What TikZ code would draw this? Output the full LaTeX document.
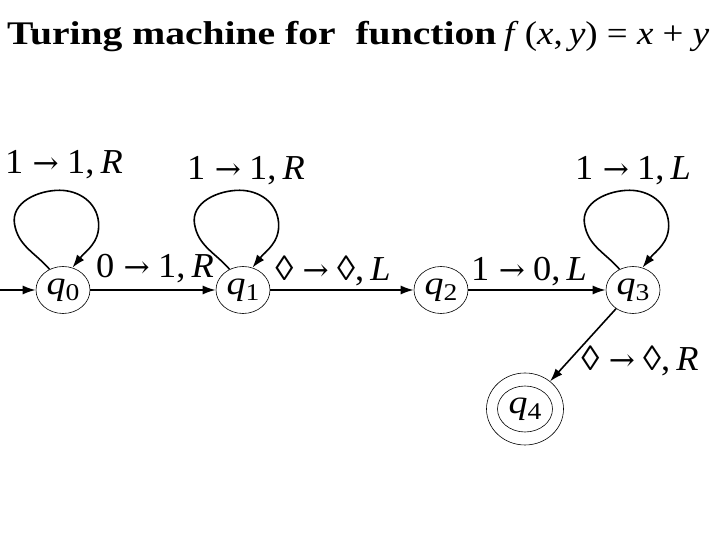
\documentclass[tikz,border=0pt]{standalone}
\usepackage{fontspec}
\setmainfont{Liberation Serif}
\newfontfamily\arrfont{DejaVu Serif}
\usetikzlibrary{shapes.geometric,arrows.meta}
\newcommand{\qst}[1]{\scalebox{1.15}[1]{{\fontsize{33}{33}\selectfont\itshape q}\raisebox{-6pt}{\fontsize{24}{24}\selectfont #1}}}
\newcommand{\trn}[3]{\scalebox{1.04}[1]{#1\hspace{9pt}{\arrfont\fontsize{30}{30}\selectfont →}\hspace{8pt}#2,\,\textit{#3}}}
\tikzset{
  state/.style={ellipse,draw,line width=0.6pt,inner sep=0pt,minimum width=54pt,minimum height=47pt},
  edge/.style={line width=1.6pt,-{Latex[length=13pt,width=9pt]}},
  lbl/.style={inner sep=0pt,font=\fontsize{35}{35}\selectfont},
}
\begin{document}
\begin{tikzpicture}[x=1pt,y=1pt]
\useasboundingbox (0,0) rectangle (720,540);
\node[anchor=base west,inner sep=0pt,font=\fontsize{33}{33}\selectfont\bfseries] (title) at (7,495) {\scalebox{1.2}[1]{Turing machine for\ \ function}};
\node[anchor=base west,inner sep=0pt,font=\fontsize{33}{33}\selectfont] (func) at (504,495) {\scalebox{1.12}[1]{\textit{f}\,(\textit{x},\,\textit{y}) = \textit{x} + \textit{y}}};

\node[state] (q0) at (63,250) {\qst{0}};
\node[state] (q1) at (243,250) {\qst{1}};
\node[state] (q2) at (441,250) {\qst{2}};
\node[state] (q3) at (633,250) {\qst{3}};
\node[state,minimum width=77pt,minimum height=72pt] (q4) at (525,131) {};
\node[state,minimum width=55pt,minimum height=46pt] (q4i) at (525,131) {\qst{4}};
\coordinate (start) at (0,250);

\draw[edge] (start) -- (q0);
\draw[edge] (q0) -- (q1);
\draw[edge] (q1) -- (q2);
\draw[edge] (q2) -- (q3);
\draw[edge] (q3) -- (q4);

\foreach \q in {q0,q1,q3}{
  \draw[edge] (\q.123) to[out=131,in=-80] ++(-35,45) to[out=100,in=180] ++(45,34) to[out=0,in=95] ++(39,-32) to[out=-85,in=52] (\q.67);
}

\node[lbl] (l00) at (64,375) {\trn{1}{1}{R}};
\node[lbl] (l11) at (246,369) {\trn{1}{1}{R}};
\node[lbl] (l01) at (155,271) {\trn{0}{1}{R}};
\node[lbl] (l12) at (333,269) {\trn{◊}{◊}{L}};
\node[lbl] (l23) at (529,268) {\trn{1}{0}{L}};
\node[lbl] (l33) at (633,369) {\trn{1}{1}{L}};
\node[lbl] (l34) at (640,179) {\trn{◊}{◊}{R}};
\end{tikzpicture}
\end{document}
